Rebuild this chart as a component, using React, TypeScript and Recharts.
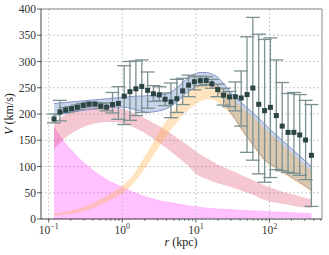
import { Area, CartesianGrid, ComposedChart, ErrorBar, ReferenceLine, Scatter, XAxis, YAxis } from 'recharts'

// radii (kpc) of the measured points and of the model bands
const radii = [
  0.118, 0.142, 0.17, 0.204, 0.245, 0.295, 0.354, 0.425, 0.51, 0.613, 0.736, 0.884, 1.06, 1.27, 1.53,
  1.84, 2.21, 2.65, 3.18, 3.82, 4.59, 5.51, 6.62, 7.95, 9.55, 11.5, 13.8, 16.5, 19.8, 23.8, 28.6, 34.4,
  41.3, 49.6, 59.5, 71.5, 85.9, 103, 124, 149, 179, 215, 258, 310, 372,
]

// observed circular velocity (km/s) with lower / upper error limits
const vObs = [
  190.5, 204, 207.5, 210, 213, 216.5, 219, 219, 215, 213, 218, 220, 234, 242.5, 248, 252.5, 245, 238.5,
  236.5, 228, 223, 229, 244, 255, 261.5, 263.5, 264, 257.5, 246.5, 236, 232.5, 233, 230.5, 237, 249.5,
  218.5, 206.5, 212.7, 197, 177, 165, 165, 160, 150.5, 121.3,
]
const vObsLow = [
  183, 187, 203, 206, 209, 213, 216, 216, 210, 206, 202, 190, 180, 188, 197, 203, 211, 224, 225, 216,
  193, 203, 218, 233, 246, 254, 256, 249, 233, 217, 214, 206, 177, 127, 112, 86, 70, 79, 94, 92, 89, 87,
  83, 75, 24,
]
const vObsHigh = [
  200, 226, 212, 214, 217, 220, 222, 222, 220, 221, 241, 252, 292, 300, 301, 303, 280, 254, 252, 240,
  259, 266, 268, 274, 271, 272, 271, 266, 257, 249, 243, 261, 282, 347, 384, 352, 342, 345, 303, 260,
  239, 241, 237, 226, 218,
]

// bulge band
const bulgeLow = [
  0, 0, 0, 0, 0, 0, 0, 0, 0, 0, 0, 0, 0, 0, 0, 1, 1, 1, 1, 1, 1, 1, 1.5, 1.5, 1.5, 1.5, 2, 2, 2, 2, 2, 2,
  2, 2.5, 2.5, 2.5, 2.5, 2.5, 3, 3, 3, 3, 3, 3, 3,
]
const bulgeHigh = [
  175, 158, 143, 131, 119, 108, 99, 90, 82, 75, 69, 64, 59, 54, 49, 45, 41, 38, 35, 33, 31, 29, 27, 25,
  24, 22, 21, 20, 19, 18.5, 18, 17, 16.5, 16, 15.5, 15, 14.5, 14, 13.5, 13, 12.5, 12, 11.5, 11, 10.5,
]

// disk band
const diskLow = [
  133, 145, 155, 163, 170, 175, 179, 182, 184, 185, 185, 184, 182, 178, 173, 167, 160, 153, 145, 137,
  128, 119, 110, 101, 88, 81, 76, 72, 68, 65, 62, 58, 54, 50, 46, 41, 36, 33, 31, 29, 27, 25, 23.5, 22,
  21,
]
const diskHigh = [
  183, 192, 199, 205, 210, 214, 216, 217, 217, 216, 214, 212, 209, 205, 200, 195, 189, 183, 177, 170,
  163, 155, 147, 139, 131, 123, 116, 110, 104, 99, 94, 89, 84, 79, 74, 69, 64, 60, 56, 52, 49, 46, 43, 40,
  37,
]

// halo band
const haloLow = [
  6, 7, 9, 10, 12, 15, 18, 22, 27, 32, 38, 44, 51, 61, 73, 88, 104, 121, 138, 155, 170, 184, 197, 208,
  217, 224, 228, 228, 222, 212, 203, 186, 169, 153, 138, 123, 109, 101, 94, 87, 80, 73, 66, 59, 51,
]
const haloHigh = [
  11, 12, 14, 16, 19, 23, 27, 32, 38, 44, 51, 58, 66, 77, 91, 110, 128, 147, 166, 184, 200, 214, 228,
  241, 251, 258, 261, 260, 255, 246, 236, 225, 214, 204, 194, 184, 173, 162, 152, 142, 132, 122, 112,
  102, 93,
]

// total model band
const totalLow = [
  197, 199, 201, 203, 205, 207, 208, 210, 211, 212, 213, 213, 213, 211, 208, 205, 203, 204, 206, 209,
  215, 223, 233, 243, 250, 254, 255, 253, 245, 228, 207, 190, 173, 157, 142, 127, 113, 105, 98, 91, 84,
  77, 70, 63, 55,
]
const totalHigh = [
  220, 221, 222, 223, 224, 225, 226, 227, 228, 229, 230, 231, 232, 233, 234, 234, 235, 235, 236, 238,
  242, 250, 260, 269, 276, 279, 279, 276, 270, 258, 244, 232, 222, 212, 202, 192, 181, 170, 160, 150,
  140, 130, 120, 110, 100,
]

const majorTicks = [0.1, 1, 10, 100]
const minorTicks = [
  0.2, 0.3, 0.4, 0.5, 0.6, 0.7, 0.8, 0.9, 2, 3, 4, 5, 6, 7, 8, 9, 20, 30, 40, 50, 60, 70, 80, 90, 200,
  300, 400, 500,
]
const yTicks = [0, 50, 100, 150, 200, 250, 300, 350, 400]

const bands = radii.map((r, i) => ({
  r,
  bulge: [bulgeLow[i], bulgeHigh[i]],
  disk: [diskLow[i], diskHigh[i]],
  halo: [haloLow[i], haloHigh[i]],
  total: [totalLow[i], totalHigh[i]],
}))

const points = radii.map((r, i) => ({
  r,
  v: vObs[i],
  err: [vObs[i] - vObsLow[i], vObsHigh[i] - vObs[i]],
}))

const FONT = "'Liberation Serif', 'DejaVu Serif', serif"

function LogTick({ x, y, payload }: any) {
  const v = payload.value
  const lg = Math.log10(v)
  const exp = Math.round(lg)
  const major = Math.abs(lg - exp) < 1e-6
  return (
    <g>
      <line x1={x} x2={x} y1={y} y2={y + (major ? 3.5 : 2)} stroke="#333" strokeWidth={major ? 0.8 : 0.6} />
      {major && (
        <text x={x} y={y + 14.5} textAnchor="middle" fontFamily={FONT} fontSize={11.5} fill="#333">
          10
          <tspan dy={-4.5} fontSize={8}>
            {exp < 0 ? '\u2212' + -exp : String(exp)}
          </tspan>
        </text>
      )}
    </g>
  )
}

function Marker({ cx, cy }: any) {
  return <rect x={cx - 2.5} y={cy - 2.5} width={5} height={5} fill="#2b4545" />
}

export default function App() {
  return (
    <div style={{ position: 'absolute', left: 0, top: 0, width: 329, height: 255, background: '#fff' }}>
      <ComposedChart
        width={329}
        height={255}
        data={bands}
        margin={{ top: 9, right: 7, bottom: 0, left: 0 }}
      >
        <CartesianGrid vertical={false} stroke="#bcbcbc" strokeDasharray="2 2" strokeWidth={0.8} />
        {majorTicks.map((t) => (
          <ReferenceLine key={t} x={t} stroke="#bcbcbc" strokeDasharray="2 2" strokeWidth={0.8} />
        ))}
        <XAxis
          dataKey="r"
          type="number"
          scale="log"
          domain={[0.0785, 518]}
          allowDataOverflow
          ticks={[...majorTicks, ...minorTicks]}
          interval={0}
          tickLine={false}
          tickSize={0}
          tickMargin={0}
          tick={<LogTick />}
          height={36}
          axisLine={{ stroke: '#333', strokeWidth: 0.9 }}
          label={{
            content: () => (
              <text x={181} y={246} textAnchor="middle" fontFamily={FONT} fontSize={12} fill="#222">
                <tspan fontStyle="italic">r</tspan> (kpc)
              </text>
            ),
          }}
        />
        <YAxis
          type="number"
          domain={[0, 400]}
          ticks={yTicks}
          interval={0}
          width={41}
          tickSize={4}
          tickMargin={1}
          tickLine={{ stroke: '#333', strokeWidth: 0.8 }}
          axisLine={{ stroke: '#333', strokeWidth: 0.9 }}
          tick={{ fontFamily: FONT, fontSize: 11.5, fill: '#333' }}
          label={{
            content: () => (
              <text
                x={13}
                y={114}
                transform="rotate(-90 13 114)"
                textAnchor="middle"
                fontFamily={FONT}
                fontSize={12}
                fill="#222"
              >
                <tspan fontStyle="italic">V</tspan> (km/s)
              </text>
            ),
          }}
        />
        <ReferenceLine y={400} stroke="#8a8a8a" strokeWidth={1} />
        <ReferenceLine x={518} stroke="#8a8a8a" strokeWidth={1} />
        <Area
          dataKey="bulge"
          type="monotone"
          fill="#ff44ff"
          fillOpacity={0.33}
          stroke="#ff44ff"
          strokeOpacity={0.35}
          strokeWidth={0.6}
          isAnimationActive={false}
        />
        <Area
          dataKey="disk"
          type="monotone"
          fill="#dc4466"
          fillOpacity={0.3}
          stroke="none"
          isAnimationActive={false}
        />
        <Area
          dataKey="total"
          type="monotone"
          fill="#6f8fc8"
          fillOpacity={0.38}
          stroke="#7c88c6"
          strokeWidth={0.9}
          isAnimationActive={false}
        />
        <Area
          dataKey="halo"
          type="monotone"
          fill="#ffb347"
          fillOpacity={0.35}
          stroke="none"
          isAnimationActive={false}
        />
        <Scatter data={points} dataKey="v" shape={<Marker />} isAnimationActive={false}>
          <ErrorBar dataKey="err" direction="y" width={7} stroke="#7b9090" strokeWidth={1.3} />
        </Scatter>
      </ComposedChart>
    </div>
  )
}
